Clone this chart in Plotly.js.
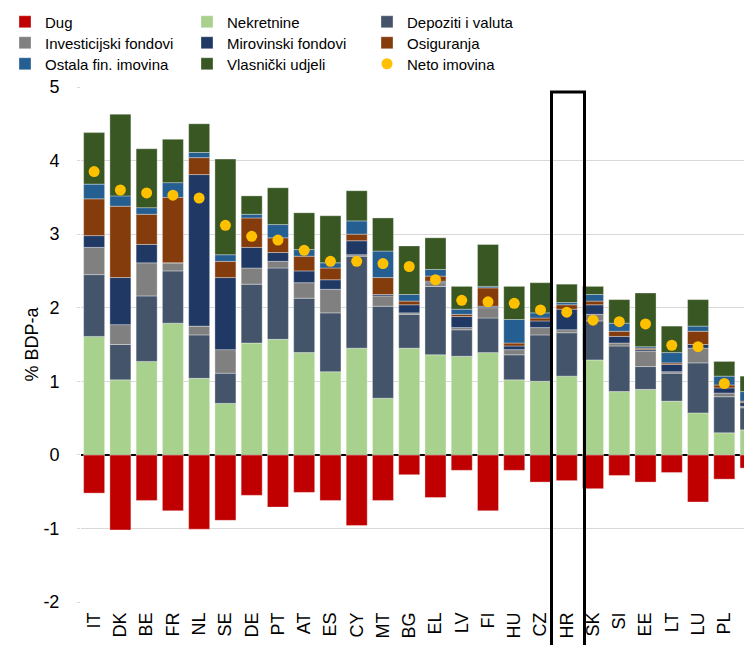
<!DOCTYPE html>
<html>
<head>
<meta charset="utf-8">
<script src="https://cdn.plot.ly/plotly-3.0.1.min.js"></script>
<style>
  html, body { margin: 0; padding: 0; background: #fff; }
  #chart { width: 744px; height: 645px; }
</style>
</head>
<body>
<div id="chart"></div>
<script>
var categories = ['IT','DK','BE','FR','NL','SE','DE','PT','AT','ES','CY','MT','BG','EL','LV','FI','HU','CZ','HR','SK','SI','EE','LT','LU','PL','RO'];

var dug = [-0.52,-1.02,-0.62,-0.76,-1.01,-0.89,-0.55,-0.71,-0.51,-0.62,-0.96,-0.62,-0.27,-0.58,-0.21,-0.76,-0.21,-0.37,-0.35,-0.46,-0.28,-0.37,-0.24,-0.64,-0.33,-0.18];
var nekretnine = [1.61,1.02,1.27,1.79,1.04,0.70,1.52,1.57,1.39,1.13,1.45,0.77,1.45,1.36,1.34,1.39,1.02,1.00,1.07,1.29,0.86,0.89,0.73,0.57,0.30,0.34];
var depoziti = [0.84,0.48,0.89,0.71,0.59,0.41,0.80,0.97,0.74,0.80,1.25,1.25,0.46,0.93,0.36,0.47,0.34,0.63,0.59,0.53,0.62,0.31,0.38,0.68,0.49,0.30];
var investicijski = [0.37,0.27,0.45,0.11,0.12,0.32,0.22,0.09,0.21,0.32,0.02,0.14,0.02,0.05,0.03,0.14,0.07,0.10,0.04,0.09,0.04,0.21,0.02,0.20,0.05,0.02];
var mirovinski = [0.16,0.64,0.25,0.00,2.06,0.98,0.28,0.12,0.16,0.13,0.19,0.02,0.11,0.02,0.15,0.02,0.05,0.09,0.28,0.13,0.09,0.02,0.10,0.05,0.07,0.05];
var osiguranja = [0.50,0.97,0.41,0.89,0.23,0.22,0.40,0.20,0.20,0.16,0.09,0.23,0.05,0.07,0.03,0.25,0.04,0.04,0.06,0.05,0.07,0.02,0.02,0.18,0.04,0.02];
var ostala = [0.20,0.14,0.09,0.20,0.07,0.09,0.05,0.18,0.09,0.07,0.18,0.36,0.09,0.09,0.07,0.02,0.32,0.07,0.03,0.09,0.11,0.02,0.14,0.07,0.12,0.13];
var vlasnicki = [0.70,1.11,0.80,0.59,0.39,1.30,0.25,0.50,0.50,0.64,0.41,0.45,0.66,0.43,0.31,0.57,0.45,0.41,0.25,0.11,0.32,0.73,0.36,0.36,0.20,0.21];
var neto = [3.85,3.60,3.56,3.53,3.49,3.12,2.97,2.92,2.78,2.63,2.63,2.60,2.56,2.38,2.10,2.08,2.06,1.97,1.94,1.83,1.81,1.78,1.49,1.47,0.97,0.89];

var yTickVals = [-2, -1, 0, 1, 2, 3, 4, 5];
var yTickText = ['-2', '-1', '0', '1', '2', '3', '4', '5'];

var seriesNames = ['Dug','Nekretnine','Depoziti i valuta','Investicijski fondovi','Mirovinski fondovi','Osiguranja','Ostala fin. imovina','Vlasnički udjeli'];
var seriesValues = [dug, nekretnine, depoziti, investicijski, mirovinski, osiguranja, ostala, vlasnicki];
var seriesColors = ['#C00000','#A9D18E','#44546A','#808080','#203864','#843C0C','#255E91','#385723'];
var netoName = 'Neto imovina';
var netoColor = '#FFC000';

// legend slots: [legend id, column, row]
var legendSlots = [
  ['legend', 0, 0], ['legend2', 1, 0], ['legend3', 2, 0],
  ['legend4', 0, 1], ['legend5', 1, 1], ['legend6', 2, 1],
  ['legend7', 0, 2], ['legend8', 1, 2], ['legend9', 2, 2]
];

var traces = [];
seriesNames.forEach(function(name, i) {
  traces.push({
    type: 'bar',
    name: name,
    x: categories,
    y: seriesValues[i],
    marker: { color: seriesColors[i], line: { color: 'rgba(255,255,255,0.55)', width: 0.6 } },
    legend: legendSlots[i][0],
    hoverinfo: 'skip'
  });
});
traces.push({
  type: 'scatter',
  mode: 'markers',
  name: netoName,
  x: categories,
  y: neto,
  marker: { color: netoColor, size: 11, line: { width: 0 } },
  legend: legendSlots[8][0],
  hoverinfo: 'skip',
  cliponaxis: true
});

var plotL = 81, plotT = 87, plotW = 663, plotH = 515;
var colText = [45, 227, 407];
var rowMid = [22, 43, 64];

var layout = {
  width: 744,
  height: 645,
  margin: { l: plotL, r: 0, t: plotT, b: 645 - plotT - plotH, autoexpand: false },
  paper_bgcolor: '#ffffff',
  plot_bgcolor: '#ffffff',
  barmode: 'relative',
  bargap: 0.2,
  font: { family: 'Arial, "Liberation Sans", sans-serif', color: '#000000', size: 18 },
  showlegend: true,
  xaxis: {
    type: 'category',
    range: [-0.5, 24.75],
    tickangle: -90,
    tickfont: { size: 18 },
    ticks: '',
    ticklabelstandoff: 6,
    showgrid: false,
    showline: false,
    zeroline: false,
    fixedrange: true
  },
  yaxis: {
    range: [-2, 5],
    tickmode: 'array',
    tickvals: yTickVals,
    ticktext: yTickText,
    tickfont: { size: 18 },
    ticks: 'outside',
    ticklen: 3,
    tickcolor: '#D9D9D9',
    ticklabelstandoff: 14,
    showgrid: true,
    gridcolor: '#D9D9D9',
    gridwidth: 1,
    zeroline: true,
    zerolinecolor: '#000000',
    zerolinewidth: 2.5,
    showline: false,
    title: { text: '% BDP-a', font: { size: 18 }, standoff: 0 },
    fixedrange: true
  },
  shapes: [{
    type: 'rect',
    xref: 'paper', yref: 'paper',
    x0: (551.5 - plotL) / plotW, x1: (584.5 - plotL) / plotW,
    y0: -0.2, y1: (plotT + plotH - 92) / plotH,
    line: { color: '#000000', width: 3 },
    fillcolor: 'rgba(0,0,0,0)',
    layer: 'above'
  }]
};

legendSlots.forEach(function(s) {
  layout[s[0]] = {
    x: (colText[s[1]] - 40 - plotL) / plotW,
    y: (plotT + plotH - rowMid[s[2]]) / plotH,
    xanchor: 'left',
    yanchor: 'middle',
    orientation: 'v',
    traceorder: 'normal',
    bgcolor: 'rgba(0,0,0,0)',
    borderwidth: 0,
    font: { family: 'Arial, "Liberation Sans", sans-serif', size: 15, color: '#000000' },
    itemclick: false,
    itemdoubleclick: false
  };
});

Plotly.newPlot('chart', traces, layout, { displayModeBar: false, staticPlot: true });
</script>
</body>
</html>
